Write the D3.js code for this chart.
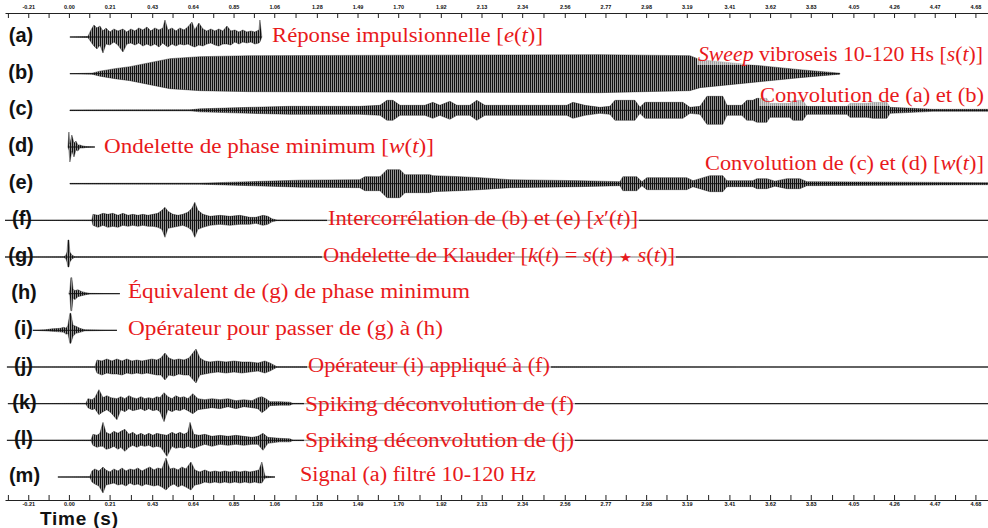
<!DOCTYPE html>
<html>
<head>
<meta charset="utf-8">
<script src="https://cdn.jsdelivr.net/npm/d3@7"></script>
<style>
  body { margin: 0; background: #fff; }
  .axis text { font: bold 5.5px Arial, "Liberation Sans", sans-serif; fill: #111; }
  .axis path, .axis line { stroke: #222; }
  .tlabel { font: bold 20px "Liberation Sans", Arial, sans-serif; fill: #111; }
  .cap { font-family: "Liberation Serif", serif; font-size: 20px; fill: #e8191b; }
</style>
</head>
<body>
<svg id="chart" width="988" height="528"></svg>
<script>
// trace ids, top to bottom
var traceIds = ["a", "b", "c", "d", "e", "f", "g", "h", "i", "j", "k", "l", "m"];

// time tick labels (s) of both axes
var tickLabels = ["-0.21", "0.00", "0.21", "0.43", "0.64", "0.85", "1.06", "1.28", "1.49", "1.70",
  "1.92", "2.13", "2.34", "2.56", "2.77", "2.98", "3.19", "3.41", "3.62", "3.83", "4.05", "4.26", "4.47", "4.68"];

// each trace: [time (s), upper envelope, lower envelope]
var traceA = [[0.005,0,0],[0.098,0.5,0.5],[0.114,7,5],[0.129,12,9],[0.145,9,12],[0.160,11,8],[0.176,6,16],
  [0.191,9,7],[0.212,5,8],[0.232,8,5],[0.253,6,8],[0.279,8,15],[0.299,5,7],[0.320,8,6],[0.341,6,8],[0.361,9,6],
  [0.382,7,9],[0.403,10,7],[0.423,6,9],[0.444,9,7],[0.465,7,10],[0.485,9,6],[0.496,17,8],[0.511,7,10],
  [0.532,9,7],[0.552,6,9],[0.573,9,7],[0.594,7,8],[0.614,10,7],[0.635,15,9],[0.650,7,10],[0.671,14,8],
  [0.692,8,9],[0.712,6,7],[0.733,8,6],[0.754,6,8],[0.774,8,9],[0.795,6,7],[0.816,11,7],[0.836,6,8],
  [0.857,7,5],[0.878,5,7],[0.898,7,5],[0.919,5,6],[0.940,6,5],[0.960,5,7],[0.981,7,6],[0.986,17,5],[0.996,0,0]];
var traceB = [[0.005,0,0],[0.119,0.5,0.5],[0.160,2.5,2.5],[0.237,5,5],[0.315,7,7],[0.418,11,11],[0.521,15,15],
  [0.676,17,17],[0.934,18,18],[2.741,19,19],[3.206,18,17],[3.258,14,14],[3.567,8,8],[3.774,4,4],[3.980,0.5,0.5]];
var traceC = [[0.005,0.3,0.3],[0.625,0.5,0.5],[0.676,1.5,1.5],[0.934,3,3],[1.141,4,4],[1.502,4,4],[1.606,5,5],
  [1.642,10,10],[1.673,10,10],[1.709,5,5],[1.838,5,5],[1.879,8,8],[1.915,5,5],[1.967,9,9],[2.003,5,5],[2.070,5,5],
  [2.106,10,10],[2.148,5,5],[2.226,5,5],[2.432,5,5],[2.571,5,5],[2.602,8,8],[2.664,5,5],[2.741,3,3],[2.793,4,4],
  [2.819,10,10],[2.922,10,10],[2.948,3,3],[2.974,8,8],[3.170,8,8],[3.206,3,3],[3.258,4,4],[3.294,14,14],
  [3.376,14,14],[3.397,5,5],[3.474,5,5],[3.500,10,10],[3.531,10,10],[3.552,12,12],[3.603,12,12],[3.619,7,7],
  [3.722,7,7],[3.738,10,10],[3.789,10,10],[3.810,4,4],[4.017,4,4],[4.032,7,7],[4.120,7,7],[4.151,8,8],[4.223,8,8],
  [4.239,3,3],[4.357,2,2],[4.461,1,1],[4.745,1,1]];
var traceD = [[-0.005,0,0],[0.000,15,3],[0.005,3,15],[0.015,12,4],[0.026,4,10],[0.036,6,3],[0.046,2,4],
  [0.057,2,1],[0.072,1,1],[0.088,0.5,0.5],[0.134,0,0]];
var traceE = [[0.005,0.3,0.3],[0.676,0.5,0.5],[0.934,2,2],[1.193,3.5,3.5],[1.502,4,4],[1.528,7,7],[1.606,7,7],
  [1.642,14,14],[1.709,14,14],[1.735,9,9],[1.864,9,9],[1.879,8,8],[2.019,7,7],[2.122,6,6],[2.277,4,4],[2.638,3,3],
  [2.845,2,2],[2.860,7,7],[2.932,7,7],[2.958,2,2],[2.984,6,6],[3.190,6,6],[3.222,3,3],[3.309,8,8],[3.376,8,8],
  [3.397,3,3],[3.531,3,3],[3.552,5,5],[3.603,5,5],[3.645,2.5,2.5],[3.707,5,5],[3.774,5,5],[3.810,2,2],
  [4.290,1.5,1.5],[4.745,1,1]];
var traceF = [[-0.330,0,0],[0.119,0.3,0.3],[0.124,6,5],[0.150,5,7],[0.176,7,5],[0.201,6,7],[0.227,7,6],
  [0.253,5,7],[0.279,7,5],[0.305,5,6],[0.330,6,5],[0.356,5,6],[0.382,6,5],[0.408,5,6],[0.434,6,6],[0.459,7,7],
  [0.480,10,9],[0.496,13,17],[0.511,9,8],[0.537,6,7],[0.563,5,6],[0.588,6,5],[0.614,8,7],[0.635,12,10],
  [0.650,18,17],[0.666,10,9],[0.692,6,7],[0.728,4,5],[0.780,5,4],[0.831,4,5],[0.883,5,4],[0.934,3,4],
  [0.965,3,3],[1.002,5,5],[1.027,4,4],[1.048,1.5,1.5],[1.074,0.3,0.3],[4.745,0,0]];
var traceG = [[-0.330,0,0],[-0.026,0.3,0.3],[-0.015,2,2],[-0.010,5,5],[-0.005,17,10],[0.000,17,10],
  [0.005,5,5],[0.015,2,2],[0.031,0.3,0.3],[4.745,0,0]];
var traceH = [[0.000,0,0],[0.005,4,2],[0.010,16,17],[0.015,16,17],[0.021,5,4],[0.031,3,6],[0.046,4,3],
  [0.067,2,2],[0.088,1,1],[0.108,0.3,0.3],[0.263,0,0]];
var traceI = [[-0.186,0,0],[-0.124,0.5,0.5],[-0.088,1.5,1],[-0.046,2,1.5],[-0.026,3,2],[-0.015,2,4],
  [-0.005,5,3],[0.005,17,13],[0.010,17,13],[0.021,5,6],[0.036,4,3],[0.057,2,2],[0.083,0.5,0.5],[0.248,0,0]];
var traceJ = [[-0.320,0,0],[0.134,0.3,0.3],[0.145,7,6],[0.170,6,8],[0.196,8,6],[0.222,6,7],[0.248,8,7],
  [0.274,6,8],[0.299,8,6],[0.325,6,7],[0.351,7,6],[0.377,6,7],[0.403,7,6],[0.428,8,7],[0.454,7,8],[0.475,9,8],
  [0.496,14,13],[0.516,9,8],[0.542,7,9],[0.568,8,7],[0.594,7,8],[0.620,9,8],[0.656,18,16],[0.676,9,8],
  [0.702,6,7],[0.728,5,6],[0.769,6,5],[0.811,5,6],[0.852,6,5],[0.893,5,6],[0.934,5,5],[0.976,4,4],
  [1.012,6,6],[1.038,4,4],[1.074,0.3,0.3],[4.745,0,0]];
var traceK = [[-0.315,0,0],[0.088,0.3,0.3],[0.098,5,4],[0.119,4,6],[0.134,6,5],[0.155,14,11],[0.176,6,8],
  [0.196,8,6],[0.217,6,9],[0.248,5,16],[0.268,7,6],[0.289,5,8],[0.310,8,5],[0.330,6,7],[0.351,5,6],[0.372,7,5],
  [0.392,5,7],[0.413,6,5],[0.434,5,7],[0.454,7,6],[0.470,6,8],[0.491,11,18],[0.511,7,6],[0.532,5,8],[0.552,8,6],
  [0.573,6,7],[0.594,7,5],[0.614,5,7],[0.640,10,10],[0.666,5,6],[0.702,4,5],[0.738,5,4],[0.780,4,5],
  [0.821,5,3],[0.862,3,5],[0.903,4,3],[0.945,3,4],[0.976,6,5],[0.996,7,9],[1.017,5,6],[1.038,2,2],
  [1.089,2,1.5],[1.141,1.5,1.5],[1.156,0.3,0.3],[4.745,0,0]];
var traceL = [[-0.320,0,0],[0.114,0.3,0.3],[0.124,6,5],[0.145,5,7],[0.160,7,6],[0.176,18,6],[0.191,8,9],
  [0.212,6,8],[0.232,9,6],[0.253,7,9],[0.268,9,7],[0.289,11,11],[0.310,6,7],[0.330,8,5],[0.351,5,7],[0.372,7,5],
  [0.392,5,6],[0.413,7,5],[0.434,5,7],[0.454,7,6],[0.475,6,7],[0.506,5,16],[0.532,8,6],[0.552,6,8],[0.573,8,7],
  [0.594,6,8],[0.614,8,6],[0.625,18,7],[0.645,6,8],[0.671,5,6],[0.702,6,4],[0.738,4,6],[0.780,5,4],[0.821,4,5],
  [0.862,5,4],[0.903,4,5],[0.945,3,4],[0.976,4,4],[1.002,7,10],[1.027,3,3],[1.089,2,1.5],[1.141,1.5,1.5],
  [1.156,0.3,0.3],[4.745,0,0]];
var traceM = [[-0.057,0,0],[0.108,0.3,0.3],[0.119,6,5],[0.134,8,7],[0.155,6,9],[0.176,10,16],[0.191,7,8],
  [0.212,5,7],[0.232,8,6],[0.253,6,8],[0.274,9,7],[0.294,6,9],[0.315,8,6],[0.336,7,8],[0.356,9,7],[0.377,6,9],
  [0.397,8,7],[0.418,10,8],[0.439,7,9],[0.459,9,8],[0.480,8,10],[0.501,19,13],[0.521,8,9],[0.542,9,7],
  [0.563,7,10],[0.583,10,8],[0.604,8,10],[0.630,15,13],[0.650,7,8],[0.676,5,7],[0.702,7,5],[0.728,5,6],
  [0.754,6,5],[0.780,5,6],[0.805,6,5],[0.831,5,6],[0.857,6,5],[0.883,5,6],[0.909,6,5],[0.934,5,6],
  [0.960,6,5],[0.981,7,6],[0.996,15,6],[1.012,1,1],[1.064,0,0]];

var traces = [traceA, traceB, traceC, traceD, traceE, traceF, traceG, traceH, traceI, traceJ, traceK, traceL, traceM];

// captions (*...* = italic)
var captions = [
  "Réponse impulsionnelle [*e*(*t*)]",
  "*Sweep* vibroseis 10-120 Hs [*s*(*t*)]",
  "Convolution de (a) et (b)",
  "Ondelette de phase minimum [*w*(*t*)]",
  "Convolution de (c) et (d) [*w*(*t*)]",
  "Intercorrélation de (b) et (e) [*x*′(*t*)]",
  "Ondelette de Klauder [*k*(*t*) = *s*(*t*) ★ *s*(*t*)]",
  "Équivalent de (g) de phase minimum",
  "Opérateur pour passer de (g) à (h)",
  "Opérateur (i) appliqué à (f)",
  "Spiking déconvolution de (f)",
  "Spiking déconvolution de (j)",
  "Signal (a) filtré 10-120 Hz"
];

// caption placement: left x, baseline y, width
var capPos = [[272,42,271],[698,61,285],[760,102,224],[104,153,330],[705,170,279],[328,225,310],[323,262,352],
  [128,298,342],[128,335,315],[308,372,242],[305,411,269],[305,447,269],[300,481,236]];
var letterX = [21,21,21,21,21,22,21,24,23.5,23.5,24.5,23.5,24.5];

var svg = d3.select("#chart");

var x = d3.scaleLinear().domain([-0.33, 4.745]).range([5, 988]);
var row = d3.scalePoint().domain(traceIds).range([37, 477]);
var amp = d3.scaleLinear().domain([-20, 20]).range([20, -20]);

var defs = svg.append("defs");
defs.append("pattern")
  .attr("id", "wig")
  .attr("patternUnits", "userSpaceOnUse")
  .attr("width", 2).attr("height", 40)
  .append("rect").attr("width", 1.45).attr("height", 40).attr("fill", "#111");

var tickVals = tickLabels.map(Number);
var minorVals = d3.pairs(tickVals).map(function (p) { return (p[0] + p[1]) / 2; });
minorVals.push(tickVals[0] - (tickVals[1] - tickVals[0]) / 2);
minorVals.push(tickVals[tickVals.length - 1] + (tickVals[1] - tickVals[0]) / 2);

// top axis: ticks down, labels above
var gTop = svg.append("g").attr("class", "axis").attr("transform", "translate(0,13)");
gTop.call(d3.axisTop(x).tickValues(tickVals).tickFormat(function (d, i) { return tickLabels[i]; })
  .tickSizeInner(-5).tickSizeOuter(0).tickPadding(4.5));
gTop.append("g").call(d3.axisTop(x).tickValues(minorVals).tickFormat("").tickSizeInner(-5).tickSizeOuter(0))
  .select(".domain").remove();

// bottom axis: ticks up, labels below
var gBot = svg.append("g").attr("class", "axis").attr("transform", "translate(0,500)");
gBot.call(d3.axisBottom(x).tickValues(tickVals).tickFormat(function (d, i) { return tickLabels[i]; })
  .tickSizeInner(-5).tickSizeOuter(0).tickPadding(2));
gBot.append("g").call(d3.axisBottom(x).tickValues(minorVals).tickFormat("").tickSizeInner(-5).tickSizeOuter(0))
  .select(".domain").remove();

svg.append("text")
  .attr("class", "tlabel")
  .style("font-size", "19px")
  .attr("x", 40).attr("y", 525)
  .attr("textLength", 78)
  .text("Time  (s)");

var area = d3.area()
  .x(function (d) { return x(d[0]); })
  .y0(function (d) { return amp(-d[2]); })
  .y1(function (d) { return amp(d[1]); });

var zero = d3.line()
  .x(function (d) { return x(d[0]); })
  .y(function () { return amp(0); });

var gTr = svg.selectAll(".trace")
  .data(traces)
  .enter().append("g")
  .attr("class", "trace")
  .attr("transform", function (d, i) { return "translate(0," + row(traceIds[i]) + ")"; });

gTr.append("path")
  .attr("d", function (d) { return zero([d[0], d[d.length - 1]]); })
  .attr("stroke", "#222").attr("stroke-width", 1).attr("fill", "none");

gTr.append("path")
  .attr("d", area)
  .attr("fill", "url(#wig)")
  .attr("stroke", "#111").attr("stroke-width", 0.4);

// trace letters
svg.selectAll(".tlab")
  .data(traceIds)
  .enter().append("text")
  .attr("class", "tlabel")
  .attr("text-anchor", "middle")
  .attr("x", function (d, i) { return letterX[i]; })
  .attr("y", function (d) { return row(d) - 2; })
  .attr("dy", "0.35em")
  .text(function (d) { return "(" + d + ")"; });

// captions with half-transparent white backing
captions.forEach(function (c, i) {
  var g = svg.append("g");
  var bg = g.append("rect");
  var t = g.append("text")
    .attr("class", "cap")
    .attr("x", capPos[i][0]).attr("y", capPos[i][1])
    .attr("textLength", capPos[i][2])
    .attr("lengthAdjust", "spacingAndGlyphs");
  c.split(/(\*[^*]+\*)/).forEach(function (s) {
    if (!s) return;
    if (s[0] === "*") t.append("tspan").style("font-style", "italic").text(s.slice(1, -1));
    else if (s.indexOf("★") >= 0) {
      var parts = s.split("★");
      t.append("tspan").text(parts[0]);
      t.append("tspan").style("font-size", "13px").text("★");
      t.append("tspan").text(parts[1]);
    }
    else t.append("tspan").text(s);
  });
  var b = t.node().getBBox();
  bg.attr("x", b.x - 1).attr("y", b.y + 2).attr("width", b.width + 2).attr("height", b.height - 3)
    .attr("fill", "#fff").attr("opacity", 0.6);
});
</script>
</body>
</html>
